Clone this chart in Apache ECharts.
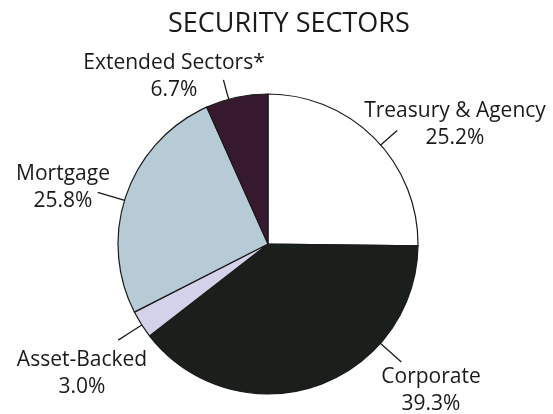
<!DOCTYPE html>
<html><head><meta charset="utf-8">
<script src="https://cdn.jsdelivr.net/npm/echarts@6/dist/echarts.min.js"></script>
<style>html,body{margin:0;padding:0;background:#fff}#c{width:553px;height:414px}</style>
</head><body><div id="c"></div>
<script>
// ---- data ----
const categories = ['Treasury & Agency', 'Corporate', 'Asset-Backed', 'Mortgage', 'Extended Sectors*'];
const values = [25.2, 39.3, 3.0, 25.8, 6.7];
const titleText = 'SECURITY SECTORS';

// ---- styling / layout ----
const sliceColors = ['#ffffff', '#1b1f1c', '#d3d2ea', '#b7cbd6', '#37192f'];
const CENTER = [268, 244];
const RADIUS = 150;
const labelPlacement = [
  { x: 455, y: 125, angle: 41.3,   r0: 146, r1: 172 },
  { x: 431, y: 391, angle: -41.5,  r0: 146, r1: 178 },
  { x: 82,  y: 374, angle: -147.3, r0: 148, r1: 178 },
  { x: 63,  y: 188, angle: 163.1,  r0: 148, r1: 178 },
  { x: 174, y: 77,  angle: 105.2,  r0: 148, r1: 170 }
];

const chart = echarts.init(document.getElementById('c'), null, { renderer: 'canvas' });
const pieData = categories.map((name, i) => ({
  name: name,
  value: values[i],
  itemStyle: { color: sliceColors[i] }
}));

chart.setOption({
  animation: false,
  backgroundColor: '#ffffff',
  title: {
    text: titleText,
    left: 168,
    top: 11,
    padding: 0,
    textStyle: { fontFamily: 'Open Sans', fontSize: 27, fontWeight: 'normal', color: '#1a1a1a' }
  },
  series: [{
    type: 'pie',
    center: CENTER,
    radius: RADIUS,
    startAngle: 90,
    clockwise: true,
    avoidLabelOverlap: false,
    silent: true,
    itemStyle: { borderColor: '#1a1a1a', borderWidth: 1.2 },
    label: {
      show: true,
      position: 'outside',
      formatter: p => p.name + '\n' + Number(p.value).toFixed(1) + '%',
      fontFamily: 'Open Sans',
      fontSize: 21,
      lineHeight: 27,
      color: '#1a1a1a'
    },
    labelLine: { show: true, length: 15, length2: 0, lineStyle: { color: '#1a1a1a', width: 1.3 } },
    labelLayout: function (params) {
      const p = labelPlacement[params.dataIndex];
      const a = p.angle * Math.PI / 180;
      const pt = r => [CENTER[0] + r * Math.cos(a), CENTER[1] - r * Math.sin(a)];
      return {
        x: p.x, y: p.y, align: 'center', verticalAlign: 'middle',
        labelLinePoints: [pt(p.r0), pt((p.r0 + p.r1) / 2), pt(p.r1)]
      };
    },
    data: pieData
  }]
});
</script>
</body></html>
